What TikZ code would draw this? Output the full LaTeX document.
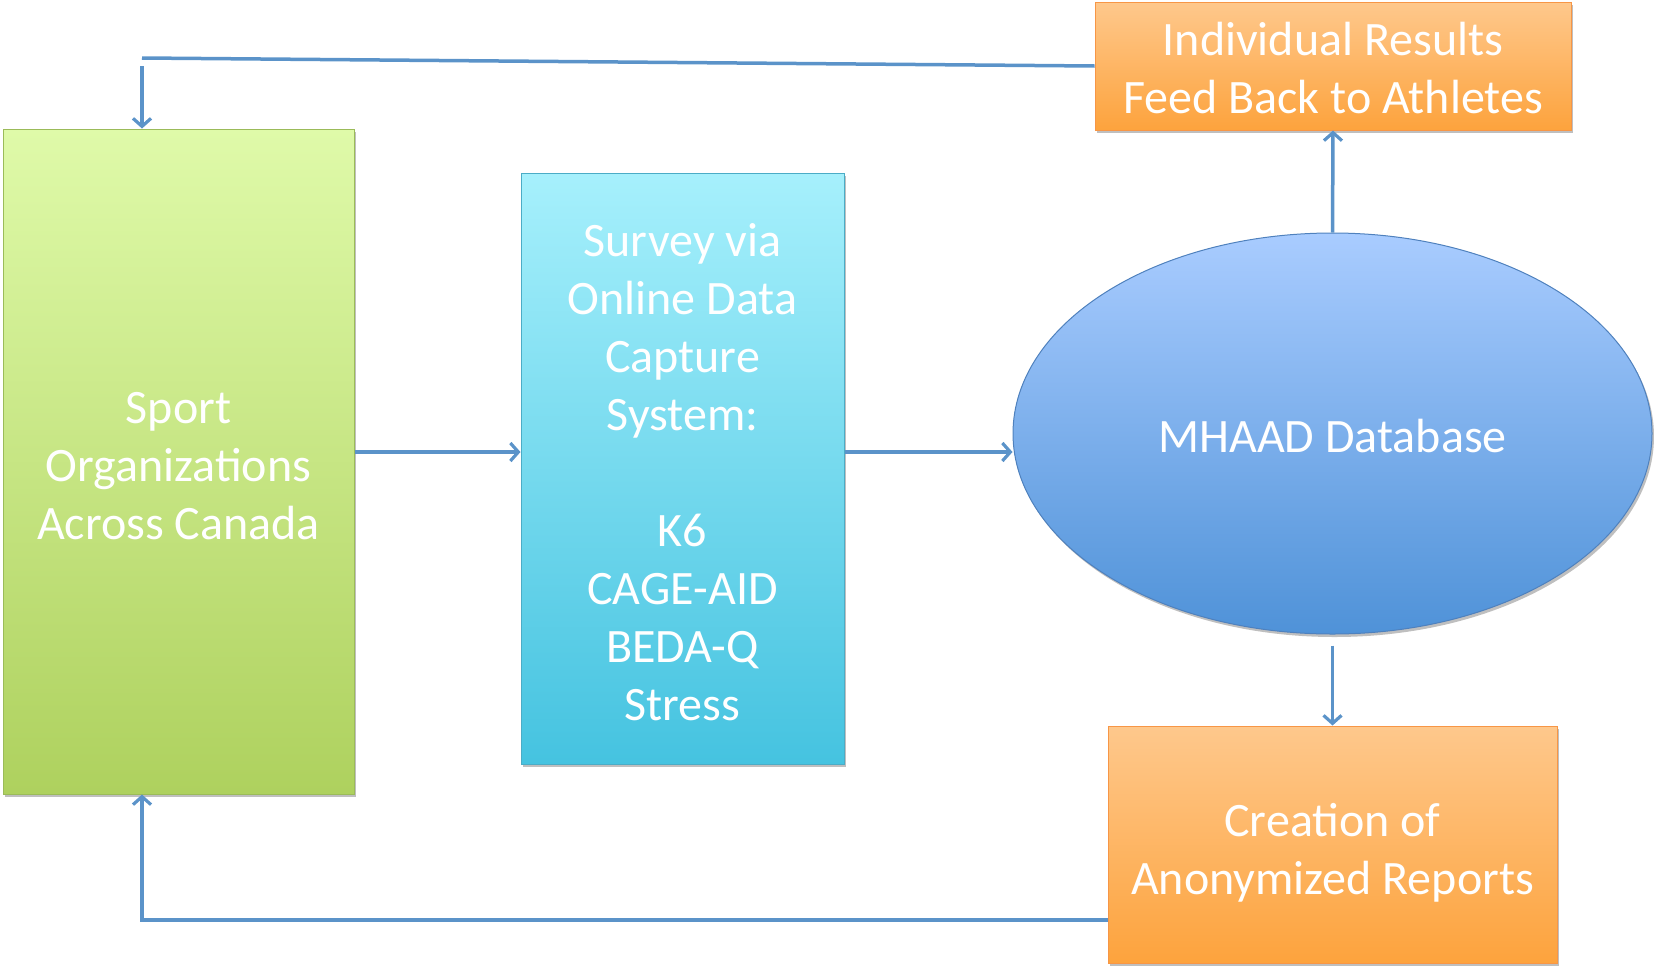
\documentclass[tikz,border=0pt]{standalone}
\usepackage{fontspec}
\setmainfont{Carlito}
\usetikzlibrary{arrows.meta,shapes.geometric,shadows}
\definecolor{lnk}{HTML}{5B93C9}
\newcommand{\shifted}[2]{\raisebox{-#1}[\height][\depth]{\begin{tabular}{@{}c@{}}#2\end{tabular}}}
\tikzset{
  box/.style={rectangle, inner sep=0pt, line width=1pt, text=white,
    font=\fontsize{48}{58}\selectfont,
    drop shadow={shadow xshift=2pt, shadow yshift=-3pt, opacity=0.25, fill=black}},
  link/.style={draw=lnk, line width=3.5pt, -{Straight Barb[length=8pt,width=18pt,line width=3.2pt]}},
  plain/.style={draw=lnk, line width=3.5pt}
}
\begin{document}
\begin{tikzpicture}[x=1pt,y=-1pt]
\useasboundingbox (0,0) rectangle (1654,967);
\definecolor{gtop}{HTML}{DFFAA9}\definecolor{gbot}{HTML}{AED15E}\definecolor{gbrd}{HTML}{9BBB59}
\definecolor{ctop}{HTML}{A6F0FC}\definecolor{cbot}{HTML}{45C3E0}\definecolor{cbrd}{HTML}{4BACC6}
\definecolor{etop}{HTML}{A9CCFF}\definecolor{ebot}{HTML}{4F92D8}\definecolor{ebrd}{HTML}{4F81BD}
\definecolor{otop}{HTML}{FEC88C}\definecolor{obot}{HTML}{FDA33D}\definecolor{obrd}{HTML}{F79646}

\node[box, draw=gbrd, top color=gtop, bottom color=gbot, minimum width=351, minimum height=665]
  (green) at (178.5,461.5) {\shifted{8pt}{Sport\\Organizations\\Across Canada}};
\node[box, draw=cbrd, top color=ctop, bottom color=cbot, minimum width=323, minimum height=591]
  (survey) at (682.5,468.5) {\shifted{8pt}{Survey via\\Online Data\\Capture\\System:\\ \\K6\\CAGE-AID\\BEDA-Q\\Stress}};
\node[box, ellipse, draw=ebrd, top color=etop, bottom color=ebot, minimum width=639, minimum height=401]
  (db) at (1332.5,433.5) {\shifted{7pt}{MHAAD Database}};
\node[box, draw=obrd, top color=otop, bottom color=obot, minimum width=476, minimum height=128]
  (indiv) at (1333,66) {\shifted{7pt}{Individual Results\\Feed Back to Athletes}};
\node[box, draw=obrd, top color=otop, bottom color=obot, minimum width=449, minimum height=237]
  (reports) at (1332.5,844.5) {\shifted{9pt}{Creation of\\Anonymized Reports}};

\coordinate (mid) at (0,452);
\coordinate (tl) at (142,58);
\coordinate (tl2) at (142,66);
\coordinate (bl) at (142,920);

\draw[link] (green.east |- mid) -- (survey.west |- mid);
\draw[link] (survey.east |- mid) -- (db.west |- mid);
\draw[link] (db.north) -- (indiv.south);
\draw[link, shorten <=11pt] (db.south) -- (reports.north);
\draw[plain] (indiv.west) -- (tl);
\draw[link] (tl2) -- (tl2 |- green.north);
\draw[link] (bl -| reports.west) -- (bl) -- (bl |- green.south);
\end{tikzpicture}
\end{document}
